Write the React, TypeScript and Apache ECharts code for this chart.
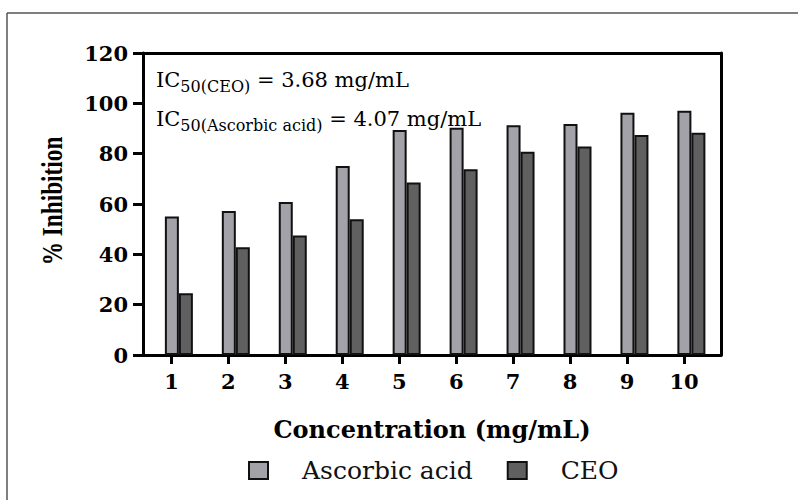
import React, { useEffect, useRef } from "react";
import * as echarts from "echarts";

// Concentration steps (mg/mL) and % inhibition for each sample
const concentrations = [1, 2, 3, 4, 5, 6, 7, 8, 9, 10];
const ascorbicAcid = [55, 57.2, 60.8, 75.1, 89.4, 90.3, 91.3, 91.8, 96.3, 97.1];
const ceo = [24.5, 42.8, 47.5, 53.9, 68.5, 73.8, 80.8, 82.8, 87.4, 88.3];
const yTicks = { min: 0, max: 120, interval: 20 };
const seriesNames = ["Ascorbic acid", "CEO"];
const ic50Lines = [
  { sub: "50(CEO)", value: " = 3.68 mg/mL" },
  { sub: "50(Ascorbic acid)", value: " = 4.07 mg/mL" },
];

const SERIF = "DejaVu Serif";
const X_MIN = 0.5;
const X_MAX = 10.65;
// shift of the bar pair so the first bar of each pair sits on its tick
const PAIR_SHIFT = 0.13;

export default function App() {
  const ref = useRef<HTMLDivElement>(null);

  useEffect(() => {
    if (!ref.current) return;
    const chart = echarts.init(ref.current, undefined, { renderer: "svg" });

    const axisLine = { show: true, onZero: false, lineStyle: { color: "#000", width: 3 } };

    chart.setOption({
      animation: false,
      backgroundColor: "#fff",
      grid: { left: 143, top: 53, right: 77, bottom: 145, containLabel: false },
      xAxis: [
        {
          type: "value",
          min: X_MIN,
          max: X_MAX,
          position: "bottom",
          axisLine,
          splitLine: { show: false },
          axisTick: {
            show: true,
            customValues: concentrations,
            length: 9,
            lineStyle: { color: "#000", width: 3 },
          },
          axisLabel: {
            customValues: concentrations,
            margin: 16,
            fontFamily: SERIF,
            fontWeight: "bold",
            fontSize: 21,
            color: "#000",
          },
          name: "Concentration (mg/mL)",
          nameLocation: "middle",
          nameGap: 62,
          nameTextStyle: {
            fontFamily: SERIF,
            fontWeight: "bold",
            fontSize: 24,
            color: "#000",
          },
        },
        {
          type: "value",
          min: X_MIN - PAIR_SHIFT,
          max: X_MAX - PAIR_SHIFT,
          position: "top",
          axisLine,
          axisTick: { show: false },
          axisLabel: { show: false },
          splitLine: { show: false },
        },
      ],
      yAxis: [
        {
          type: "value",
          ...yTicks,
          axisLine,
          splitLine: { show: false },
          axisTick: {
            show: true,
            length: 10,
            lineStyle: { color: "#000", width: 3 },
          },
          axisLabel: {
            margin: 15,
            fontFamily: SERIF,
            fontWeight: "bold",
            fontSize: 21,
            color: "#000",
          },
        },
        {
          type: "value",
          ...yTicks,
          position: "right",
          axisLine,
          axisTick: { show: false },
          axisLabel: { show: false },
          splitLine: { show: false },
        },
      ],
      legend: {
        data: seriesNames,
        left: 243,
        top: 453,
        icon: "rect",
        itemWidth: 19,
        itemHeight: 17,
        itemGap: 34,
        textStyle: {
          fontFamily: SERIF,
          fontSize: 25,
          color: "#111",
          padding: [0, 0, 0, 29],
        },
      },
      series: [
        {
          name: seriesNames[0],
          type: "bar",
          xAxisIndex: 1,
          yAxisIndex: 0,
          barWidth: 14,
          barGap: "0%",
          itemStyle: { color: "#a2a2a8", borderColor: "#111", borderWidth: 2 },
          data: concentrations.map((c, i) => [c, ascorbicAcid[i]]),
        },
        {
          name: seriesNames[1],
          type: "bar",
          xAxisIndex: 1,
          yAxisIndex: 0,
          barWidth: 14,
          barGap: "0%",
          itemStyle: { color: "#606060", borderColor: "#111", borderWidth: 2 },
          data: concentrations.map((c, i) => [c, ceo[i]]),
        },
      ],
      graphic: [
        // outer figure frame
        {
          type: "line",
          shape: { x1: 7, y1: 13, x2: 798, y2: 13 },
          style: { stroke: "#555", lineWidth: 1.5 },
        },
        {
          type: "line",
          shape: { x1: 7, y1: 13, x2: 7, y2: 500 },
          style: { stroke: "#555", lineWidth: 1.5 },
        },
        // y axis title
        {
          type: "text",
          x: 53,
          y: 201,
          rotation: Math.PI / 2,
          scaleX: 0.97,
          scaleY: 1.2,
          style: {
            text: "% Inhibition",
            font: "bold 24px 'Liberation Serif'",
            fill: "#000",
            align: "center",
            verticalAlign: "middle",
          },
        },
        // IC50 annotations
        ...ic50Lines.map((line, i) => ({
          type: "text",
          x: 156,
          y: 80 + i * 39,
          style: {
            text: `{m|IC}{s|${line.sub}}{m|${line.value}}`,
            fill: "#000",
            verticalAlign: "middle",
            rich: {
              m: {
                fontFamily: SERIF,
                fontSize: 21,
                lineHeight: 26,
                verticalAlign: "middle",
              },
              s: {
                fontFamily: SERIF,
                fontSize: 16,
                lineHeight: 16,
                padding: [12, 0, 0, 0],
                verticalAlign: "middle",
              },
            },
          },
        })),
      ],
    });

    return () => chart.dispose();
  }, []);

  return (
    <div
      ref={ref}
      style={{ position: "fixed", left: 0, top: 0, width: 798, height: 500, background: "#fff" }}
    />
  );
}
